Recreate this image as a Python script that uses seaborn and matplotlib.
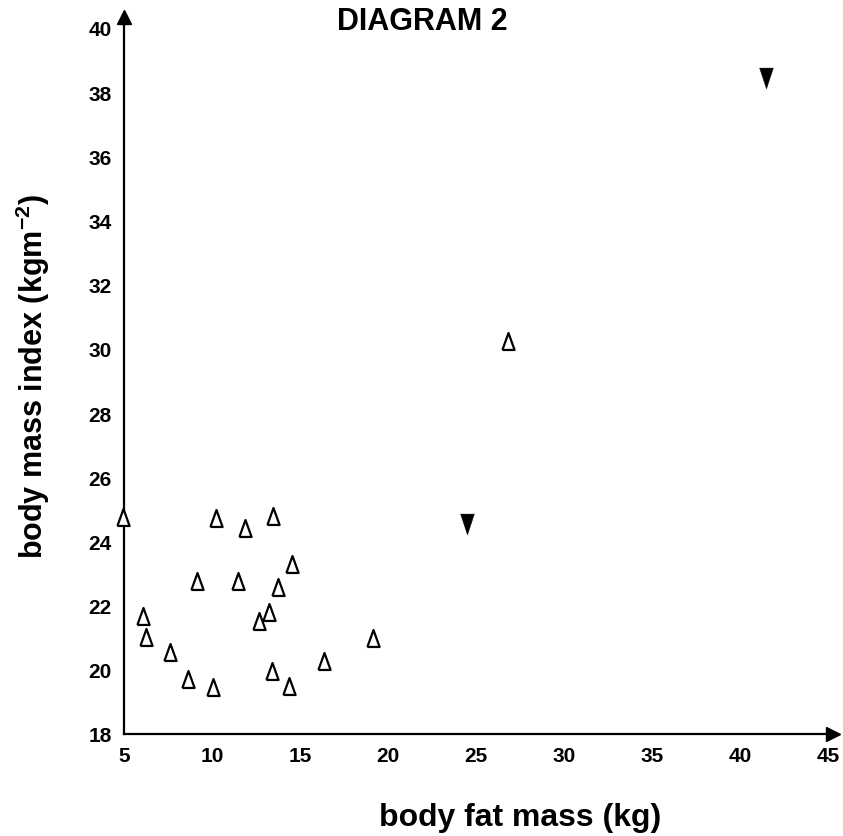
import matplotlib
matplotlib.use("Agg")
import matplotlib.pyplot as plt
import seaborn as sns
import pandas as pd

# Body fat mass (kg) vs body mass index, two groups of subjects
open_fat = [4.94, 10.23, 11.88, 13.47, 14.55, 9.15, 11.48, 13.75, 6.08, 13.24,
            12.67, 6.25, 7.61, 16.36, 13.41, 8.64, 10.06, 14.38, 19.15, 26.82]
open_bmi = [24.76, 24.73, 24.42, 24.79, 23.30, 22.77, 22.77, 22.58, 21.68, 21.80,
            21.52, 21.02, 20.56, 20.27, 19.96, 19.71, 19.46, 19.50, 20.99, 30.25]
filled_fat = [24.49, 41.48]
filled_bmi = [24.54, 38.44]

x_ticks = [5, 10, 15, 20, 25, 30, 35, 40, 45]
y_ticks = [18, 20, 22, 24, 26, 28, 30, 32, 34, 36, 38, 40]

open_df = pd.DataFrame({"fat": open_fat, "bmi": open_bmi})
filled_df = pd.DataFrame({"fat": filled_fat, "bmi": filled_bmi})

sns.set_theme(style="white")
plt.rcParams["font.family"] = ["Liberation Sans", "DejaVu Sans"]
plt.rcParams["font.weight"] = "bold"
plt.rcParams["mathtext.fontset"] = "custom"
plt.rcParams["mathtext.rm"] = "Liberation Sans:bold"
plt.rcParams["mathtext.bf"] = "Liberation Sans:bold"
plt.rcParams["mathtext.default"] = "rm"

fig = plt.figure(figsize=(8.43, 8.37), dpi=100)
ax = fig.add_axes([0.1471, 0.1219, 0.8414, 0.8569])

# narrow triangles: open pointing up, solid pointing down
tri_up = [(-0.36, -0.5), (0.36, -0.5), (0.0, 0.5), (-0.36, -0.5)]
tri_down = [(-0.33, 0.5), (0.33, 0.5), (0.0, -0.5), (-0.33, 0.5)]

sns.scatterplot(data=open_df, x="fat", y="bmi", ax=ax, marker=tri_up, s=12.2 ** 2,
                facecolor="white", edgecolor="black", linewidth=1.6, zorder=3,
                clip_on=False)
sns.scatterplot(data=filled_df, x="fat", y="bmi", ax=ax, marker=tri_down, s=15 ** 2,
                color="black", edgecolor="black", linewidth=0.3, zorder=3,
                clip_on=False)

ax.set_xlim(5, 45.3)
ax.set_ylim(18, 40.35)
ax.set_xticks(x_ticks)
ax.set_yticks(y_ticks)
ax.set_xticklabels([str(v) for v in x_ticks], fontsize=15, fontweight="bold")
ax.set_yticklabels([str(v) for v in y_ticks], fontsize=15, fontweight="bold")
ax.tick_params(axis="both", length=0, colors="black")
ax.tick_params(axis="y", pad=9)
ax.tick_params(axis="x", pad=9)

for side in ["top", "right"]:
    ax.spines[side].set_visible(False)
for side in ["left", "bottom"]:
    ax.spines[side].set_color("black")
    ax.spines[side].set_linewidth(1.6)

# arrow heads at the ends of the axes
ax.plot(1, 0, ">", color="black", markersize=10, transform=ax.transAxes, clip_on=False)
ax.plot(0, 1, "^", color="black", markersize=10, transform=ax.transAxes, clip_on=False)

ax.set_xlabel("")
ax.set_ylabel(r"body mass index (kgm$^{-2}$)", fontsize=22, fontweight="bold",
              color="black", labelpad=26)
fig.text(520 / 843, 1 - 818 / 837, "body fat mass (kg)", fontsize=23,
         fontweight="bold", ha="center", va="center", color="black")
fig.text(422 / 843, 1 - 22 / 837, "DIAGRAM 2", fontsize=22, fontweight="bold",
         ha="center", va="center", color="black")

fig.savefig("out.png", dpi=100, facecolor="white")
